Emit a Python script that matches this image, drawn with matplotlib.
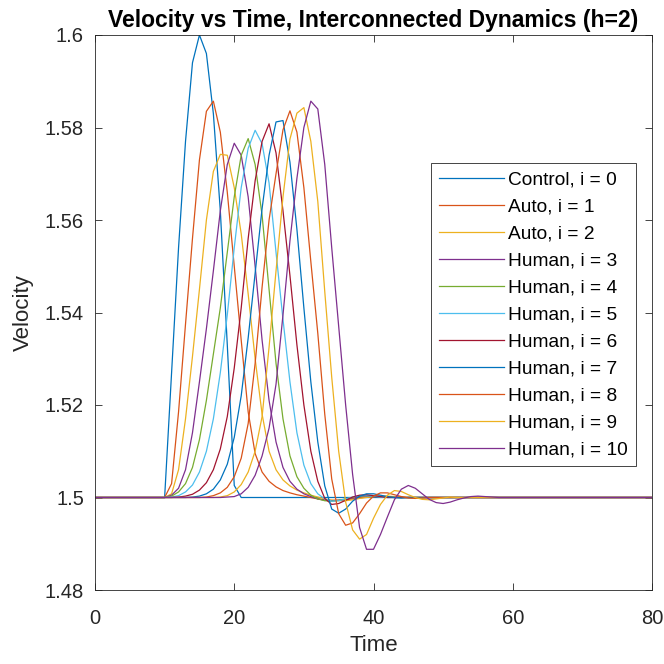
import numpy as np
import matplotlib
matplotlib.use('Agg')
import matplotlib.pyplot as plt
from matplotlib.ticker import FuncFormatter

plt.rcParams['font.family'] = ['Liberation Sans', 'DejaVu Sans']

# velocity samples, one value per time unit starting at t = 10
t_start = 10
control_0 = [1.500, 1.527, 1.554, 1.577, 1.594, 1.600, 1.596, 1.583, 1.562, 1.533, 1.5026, 1.500]
auto_1 = [1.5000, 1.5030, 1.5185, 1.5375, 1.5560, 1.5730, 1.5835, 1.5857, 1.5790, 1.5660,
          1.5500, 1.5340, 1.5185, 1.5095, 1.5055, 1.5035, 1.5023, 1.5015, 1.5010, 1.5006,
          1.5003, 1.5000, 1.4997, 1.4995, 1.4994, 1.4994, 1.4995, 1.4997, 1.4999, 1.5001,
          1.5002, 1.5002, 1.5002, 1.5001, 1.5000]
auto_2 = [1.5000, 1.5008, 1.5060, 1.5170, 1.5305, 1.5450, 1.5600, 1.5705, 1.5742, 1.5740,
          1.5670, 1.5570, 1.5440, 1.5300, 1.5180, 1.5100, 1.5060, 1.5038, 1.5025, 1.5016,
          1.5010, 1.5005, 1.5001, 1.4997, 1.4994, 1.4993, 1.4993, 1.4995, 1.4998, 1.5000,
          1.5002, 1.5003, 1.5003, 1.5002, 1.5001, 1.5000]
human_3 = [1.5000, 1.5005, 1.5020, 1.5060, 1.5140, 1.5250, 1.5365, 1.5490, 1.5620, 1.5720,
           1.5766, 1.5740, 1.5650, 1.5500, 1.5340, 1.5210, 1.5120, 1.5065, 1.5035, 1.5018,
           1.5008, 1.5002, 1.4997, 1.4994, 1.4993, 1.4994, 1.4996, 1.4999, 1.5002, 1.5003,
           1.5003, 1.5002, 1.5001, 1.5000]
human_4 = [1.5000, 1.5003, 1.5012, 1.5030, 1.5065, 1.5125, 1.5210, 1.5310, 1.5410, 1.5530,
           1.5650, 1.5740, 1.5776, 1.5720, 1.5610, 1.5450, 1.5290, 1.5170, 1.5090, 1.5045,
           1.5020, 1.5005, 1.4997, 1.4993, 1.4992, 1.4994, 1.4997, 1.5000, 1.5003, 1.5004,
           1.5003, 1.5002, 1.5001, 1.5000]
human_5 = [1.5000, 1.5001, 1.5004, 1.5012, 1.5027, 1.5055, 1.5100, 1.5170, 1.5270, 1.5395,
           1.5540, 1.5670, 1.5755, 1.5794, 1.5765, 1.5680, 1.5530, 1.5385, 1.5250, 1.5140,
           1.5070, 1.5030, 1.5008, 1.4997, 1.4992, 1.4993, 1.4997, 1.5001, 1.5004, 1.5004,
           1.5003, 1.5001, 1.5000]
human_6 = [1.5000, 1.5000, 1.5001, 1.5003, 1.5007, 1.5016, 1.5032, 1.5060, 1.5105, 1.5175,
           1.5280, 1.5410, 1.5560, 1.5685, 1.5770, 1.5808, 1.5745, 1.5620, 1.5480, 1.5330,
           1.5200, 1.5100, 1.5035, 1.4998, 1.4985, 1.4987, 1.4994, 1.5001, 1.5005, 1.5006,
           1.5004, 1.5002, 1.5000]
human_7 = [1.5000, 1.5000, 1.5000, 1.5000, 1.5001, 1.5003, 1.5008, 1.5018, 1.5038, 1.5072,
           1.5130, 1.5220, 1.5345, 1.5485, 1.5625, 1.5740, 1.5812, 1.5815, 1.5725, 1.5580,
           1.5410, 1.5250, 1.5120, 1.5025, 1.4975, 1.4966, 1.4975, 1.4992, 1.5003, 1.5008,
           1.5008, 1.5005, 1.5002, 1.5000, 1.4999, 1.5000]
human_8 = [1.5000, 1.5000, 1.5000, 1.5000, 1.5000, 1.5000, 1.5001, 1.5004, 1.5010, 1.5022,
           1.5045, 1.5085, 1.5160, 1.5290, 1.5455, 1.5600, 1.5700, 1.5795, 1.5836, 1.5790,
           1.5670, 1.5510, 1.5355, 1.5180, 1.5040, 1.4965, 1.4940, 1.4945, 1.4965, 1.4988,
           1.5003, 1.5010, 1.5010, 1.5006, 1.5002, 1.4999, 1.4998, 1.4999, 1.5000]
human_9 = [1.5000, 1.5000, 1.5000, 1.5000, 1.5000, 1.5000, 1.5000, 1.5000, 1.5001, 1.5004,
           1.5012, 1.5028, 1.5055, 1.5100, 1.5175, 1.5325, 1.5490, 1.5650, 1.5775, 1.5831,
           1.5843, 1.5770, 1.5640, 1.5445, 1.5260, 1.5100, 1.4990, 1.4930, 1.4910, 1.4920,
           1.4955, 1.4985, 1.5005, 1.5015, 1.5013, 1.5006, 1.5000, 1.4996, 1.4995, 1.4997,
           1.4999, 1.5001, 1.5000]
human_10 = [1.5000, 1.5000, 1.5000, 1.5000, 1.5000, 1.5000, 1.5000, 1.5000, 1.5000, 1.5001,
            1.5002, 1.5008, 1.5022, 1.5048, 1.5090, 1.5150, 1.5245, 1.5395, 1.5555, 1.5690,
            1.5800, 1.5857, 1.5840, 1.5720, 1.5540, 1.5370, 1.5200, 1.5050, 1.4935, 1.4888,
            1.4888, 1.4920, 1.4958, 1.4995, 1.5018, 1.5026, 1.5020, 1.5008, 1.4996, 1.4989,
            1.4987, 1.4990, 1.4995, 1.4999, 1.5002, 1.5003, 1.5002, 1.5001, 1.5000]

series = [control_0, auto_1, auto_2, human_3, human_4, human_5, human_6,
          human_7, human_8, human_9, human_10]
labels = ['Control, i = 0', 'Auto, i = 1', 'Auto, i = 2'] + \
         [f'Human, i = {i}' for i in range(3, 11)]
t_end = 80
v_rest = 1.5

# MATLAB default line colours
colors = ['#0072BD', '#D95319', '#EDB120', '#7E2F8E', '#77AC30', '#4DBEEE', '#A2142F']

fig = plt.figure(figsize=(6.64, 6.64), dpi=100)
ax = fig.add_axes([95/664, 74/664, 557/664, 555/664])

for k, (vals, lab) in enumerate(zip(series, labels)):
    tt = [0] + [t_start + n for n in range(len(vals))] + [t_end]
    vv = [v_rest] + vals + [v_rest]
    ax.plot(tt, vv, color=colors[k % 7], lw=0.9, label=lab)

ax.set_xlim(0, 80)
ax.set_ylim(1.48, 1.6)
ax.set_xticks([0, 20, 40, 60, 80])
ax.set_yticks(np.round(np.arange(1.48, 1.601, 0.02), 2))
ax.yaxis.set_major_formatter(FuncFormatter(lambda v, p: f'{round(v, 2):g}'))

dark = '#262626'
for s in ax.spines.values():
    s.set_color(dark)
    s.set_linewidth(0.6)
ax.tick_params(direction='in', top=True, right=True, length=5, width=0.6,
               colors=dark, labelsize=14.5)
ax.tick_params(axis='x', pad=14)
ax.tick_params(axis='y', pad=8)

ax.set_xlabel('Time', fontsize=16, color=dark, labelpad=5)
ax.set_ylabel('Velocity', fontsize=16, color=dark, labelpad=8)
ax.set_title('Velocity vs Time, Interconnected Dynamics (h=2)', fontsize=16.5,
             fontweight='bold', color='black', pad=6)

leg = ax.legend(loc='upper right', bbox_to_anchor=(0.971, 0.769), borderaxespad=0,
                fontsize=13.8, fancybox=False, framealpha=1, edgecolor=dark,
                handlelength=3.4, handletextpad=0.24, labelspacing=0.5, borderpad=0.4)
leg.get_frame().set_linewidth(0.6)

fig.savefig('out.png', dpi=100)
